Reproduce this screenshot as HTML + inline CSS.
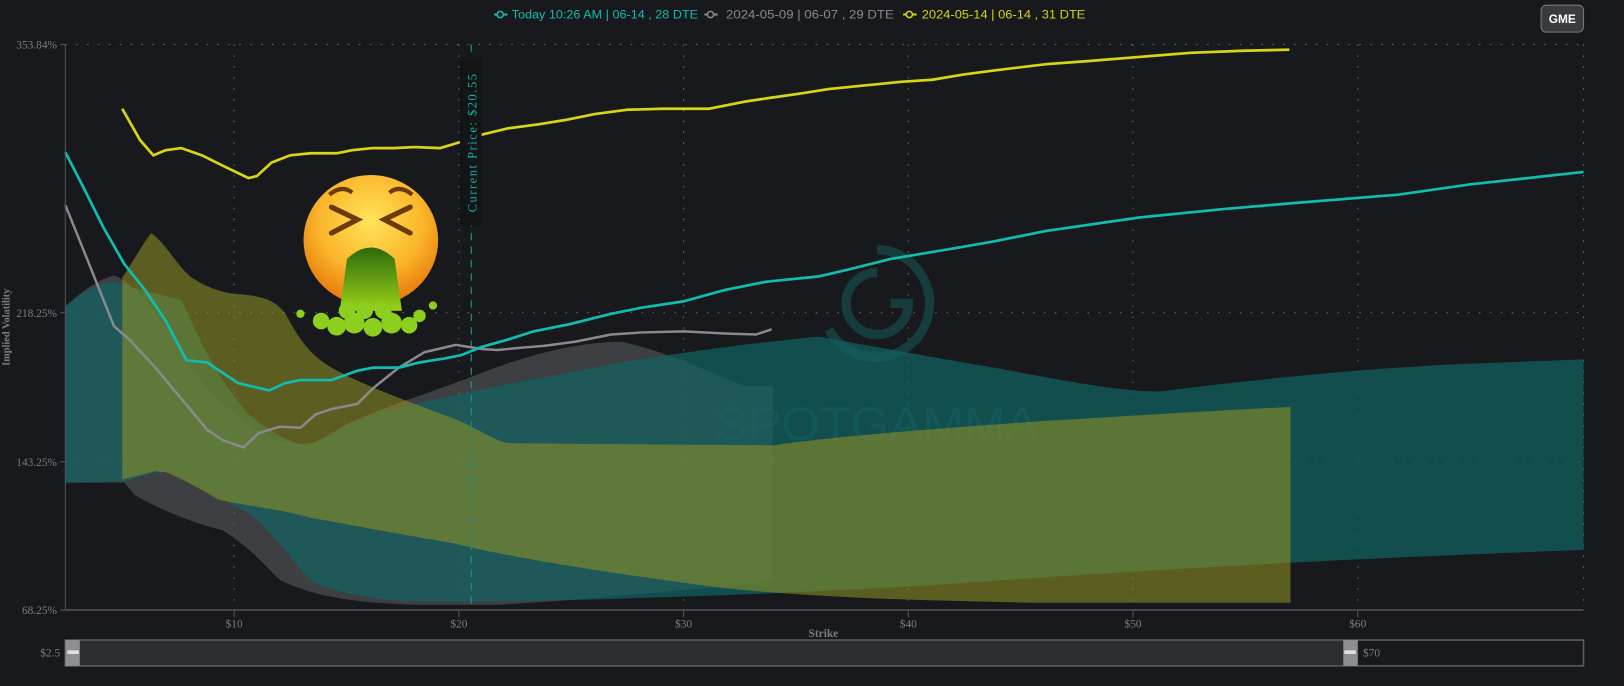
<!DOCTYPE html>
<html><head><meta charset="utf-8"><style>
html,body{margin:0;padding:0;background:#18191d;width:1624px;height:686px;overflow:hidden}
svg{display:block}
</style></head><body>
<svg width="1624" height="686" viewBox="0 0 1568 662.4" xmlns="http://www.w3.org/2000/svg">
<defs>
<radialGradient id="face" cx="50%" cy="35%" r="65%">
<stop offset="0" stop-color="#ffe45a"/><stop offset="0.6" stop-color="#fbb52a"/><stop offset="1" stop-color="#e77a0c"/>
</radialGradient>
<linearGradient id="vom" x1="0" y1="0" x2="0" y2="1"><stop offset="0" stop-color="#2d6a0a"/><stop offset="1" stop-color="#9bd21a"/></linearGradient>
</defs>
<rect width="1568" height="662.4" fill="#18191d"/>
<g stroke="#6a6b70" stroke-width="1" stroke-dasharray="1.5 9">
<line x1="63" y1="43" x2="1529" y2="43"/>
<line x1="63" y1="302" x2="1529" y2="302"/>
<line x1="63" y1="446" x2="1529" y2="446"/>
<line x1="226" y1="43" x2="226" y2="589"/><line x1="443" y1="43" x2="443" y2="589"/>
<line x1="660" y1="43" x2="660" y2="589"/><line x1="877" y1="43" x2="877" y2="589"/>
<line x1="1094" y1="43" x2="1094" y2="589"/><line x1="1311" y1="43" x2="1311" y2="589"/>
<line x1="1529" y1="43" x2="1529" y2="589"/>
</g>
<g fill="none" stroke="#173c3e" stroke-width="9">
<path d="M847,241 A52,52 0 1 1 800,318"/><path d="M847,263 A30,30 0 1 0 877,293 L860,293"/>
</g>
<text x="690" y="425" textLength="313" lengthAdjust="spacingAndGlyphs" font-family="Liberation Sans, sans-serif" font-size="46" fill="#173c3e">SPOTGAMMA</text>
<path fill="rgba(95,95,98,0.55)" d="M63,296 C80,280 95,270 110,266 C125,270 150,300 170,330 C190,370 220,400 265,425 C290,432 310,430 330,412 C370,392 420,378 460,362 C510,342 560,330 600,330 C640,338 690,362 720,373 L746,373 L746,562 C650,570 560,580 480,584 L400,584 C340,582 300,575 270,560 C250,540 240,528 215,512 C185,505 150,490 130,478 L120,466 L63,466 Z"/>
<path fill="rgba(18,98,98,0.72)" d="M63,296 C80,282 95,272 110,272 C140,282 160,285 175,290 C190,320 205,360 240,400 C265,420 285,430 300,430 C320,418 340,405 380,395 C440,380 520,365 600,350 C680,337 740,330 790,325 C830,332 900,345 960,355 C1030,368 1080,378 1120,378 C1200,368 1300,357 1400,352 L1529,347 L1529,531 C1400,536 1300,540 1200,546 C1100,551 1000,558 900,565 C800,571 700,575 600,578 C500,581 420,582 380,580 C340,575 310,568 300,560 C280,540 265,515 240,495 C215,482 190,470 165,456 L150,456 L120,465 L63,466 Z"/>
<path fill="rgba(150,150,35,0.55)" d="M118,268 C130,250 140,232 146,225 C160,235 172,258 185,268 C200,278 215,283 230,284 C255,286 265,290 275,302 C290,330 300,343 320,355 C350,372 400,390 440,405 C470,418 480,428 495,428 L746,430 C800,422 900,414 1000,407 C1100,401 1180,396 1246,393 L1246,582 L1000,582 C900,580 800,578 700,568 C600,555 500,540 440,525 C380,515 330,505 300,500 C265,490 230,488 210,482 C190,470 175,462 160,456 L150,455 L118,463 Z"/>
<line x1="455" y1="43" x2="455" y2="589" stroke="#1a8f86" stroke-width="1.2" stroke-dasharray="7 6"/>
<polyline fill="none" stroke="#8a8a8c" stroke-width="2.4" stroke-linejoin="round" points="63,198 80,240 100,290 110,315 125,328 150,355 175,385 200,415 215,425 235,432 250,418 270,412 290,413 305,400 320,395 345,390 360,375 385,355 410,340 440,333 465,337 480,338 500,336 525,334 555,330 590,323 620,321 660,320 700,322 730,323 745,318"/>
<polyline fill="none" stroke="#12bcb0" stroke-width="2.6" stroke-linejoin="round" points="63,147 80,180 100,220 120,255 140,280 160,310 180,348 200,350 230,370 260,377 275,370 290,367 320,367 345,358 360,355 385,355 405,350 430,346 445,343 465,335 490,328 515,320 550,313 590,303 620,297 660,291 700,280 740,272 790,267 820,260 860,250 920,240 960,233 1010,223 1100,210 1180,202 1250,196 1350,188 1420,178 1529,166"/>
<polyline fill="none" stroke="#d8d416" stroke-width="2.6" stroke-linejoin="round" points="118,105 135,135 148,150 160,145 175,143 195,150 215,160 240,172 248,170 262,157 280,150 300,148 325,148 340,145 360,143 380,143 400,142 425,143 445,137 465,130 490,124 520,120 545,116 575,110 605,106 640,105 685,105 720,98 740,95 775,90 800,86 830,83 870,79 900,77 930,72 960,68 1010,62 1050,59 1100,55 1150,51 1200,49 1245,48"/>
<rect x="444" y="55" width="21" height="163" rx="4" fill="#141517"/>
<text transform="translate(460,205) rotate(-90)" font-family="Liberation Serif, serif" font-size="12" fill="#14b3a6" letter-spacing="1.5">Current Price: $20.55</text>
<g>
<ellipse cx="358" cy="232" rx="65" ry="63" fill="url(#face)"/>
<path d="M320,200 L345,212 L320,225" fill="none" stroke="#6b3a08" stroke-width="5" stroke-linecap="round"/>
<path d="M396,200 L371,212 L396,225" fill="none" stroke="#6b3a08" stroke-width="5" stroke-linecap="round"/>
<path d="M318,188 Q330,178 340,186 M398,188 Q386,178 376,186" fill="none" stroke="#6b3a08" stroke-width="4"/>
<path d="M335,250 Q358,228 381,250 L388,300 L328,300 Z" fill="url(#vom)"/>
<g fill="#8ccf1e">
<circle cx="310" cy="310" r="8"/><circle cx="325" cy="315" r="9"/><circle cx="342" cy="312" r="10"/><circle cx="360" cy="316" r="9"/><circle cx="378" cy="312" r="10"/><circle cx="395" cy="314" r="8"/><circle cx="405" cy="305" r="6"/><circle cx="290" cy="303" r="4"/><circle cx="418" cy="295" r="4"/><circle cx="335" cy="300" r="8"/><circle cx="370" cy="300" r="8"/><circle cx="352" cy="300" r="8"/>
</g>
</g>
<line x1="63" y1="43" x2="63" y2="589" stroke="#55565a" stroke-width="1"/>
<line x1="63" y1="589" x2="1529" y2="589" stroke="#55565a" stroke-width="1.5"/>
<g stroke="#55565a" stroke-width="1">
<line x1="58" y1="43" x2="63" y2="43"/><line x1="58" y1="302" x2="63" y2="302"/><line x1="58" y1="446" x2="63" y2="446"/><line x1="58" y1="589" x2="63" y2="589"/>
<line x1="226" y1="589" x2="226" y2="596"/><line x1="443" y1="589" x2="443" y2="596"/><line x1="660" y1="589" x2="660" y2="596"/><line x1="877" y1="589" x2="877" y2="596"/><line x1="1094" y1="589" x2="1094" y2="596"/><line x1="1311" y1="589" x2="1311" y2="596"/>
</g>
<rect x="63" y="618" width="1466" height="25" fill="#2d2e32" stroke="#5a5b5f" stroke-width="1.5"/>
<rect x="1311" y="619" width="217" height="23" fill="#18191d"/>
<rect x="63" y="618" width="14" height="25" fill="#8d8e90"/><rect x="65" y="628" width="11" height="3.5" fill="#e0e0e0"/>
<rect x="1297" y="618" width="14" height="25" fill="#8d8e90"/><rect x="1298" y="628" width="11" height="3.5" fill="#e0e0e0"/>
<g font-family="Liberation Serif, serif" font-size="11" fill="#7d7e82">
<text x="55" y="47" text-anchor="end">353.84%</text>
<text x="55" y="306" text-anchor="end">218.25%</text>
<text x="55" y="450" text-anchor="end">143.25%</text>
<text x="55" y="593" text-anchor="end">68.25%</text>
<text x="226" y="606" text-anchor="middle">$10</text><text x="443" y="606" text-anchor="middle">$20</text>
<text x="660" y="606" text-anchor="middle">$30</text><text x="877" y="606" text-anchor="middle">$40</text>
<text x="1094" y="606" text-anchor="middle">$50</text><text x="1311" y="606" text-anchor="middle">$60</text>
<text x="58" y="634" text-anchor="end">$2.5</text><text x="1316" y="634">$70</text>
</g>
<text x="795" y="615" text-anchor="middle" font-family="Liberation Serif, serif" font-size="11" font-weight="bold" fill="#7d7e82">Strike</text>
<text transform="translate(9,316) rotate(-90)" text-anchor="middle" font-family="Liberation Serif, serif" font-size="10" font-weight="bold" fill="#7d7e82">Implied Volatility</text>
<g font-family="Liberation Sans, sans-serif" font-size="12">
<line x1="477" y1="14" x2="490" y2="14" stroke="#12bcb0" stroke-width="2"/><circle cx="483" cy="14" r="3" fill="#18191d" stroke="#12bcb0" stroke-width="1.5"/>
<text x="494" y="18" fill="#12bcb0" textLength="180" lengthAdjust="spacingAndGlyphs">Today 10:26 AM | 06-14 , 28 DTE</text>
<line x1="680" y1="14" x2="693" y2="14" stroke="#8a8a8c" stroke-width="2"/><circle cx="686" cy="14" r="3" fill="#18191d" stroke="#8a8a8c" stroke-width="1.5"/>
<text x="701" y="18" fill="#8a8a8c" textLength="162" lengthAdjust="spacingAndGlyphs">2024-05-09 | 06-07 , 29 DTE</text>
<line x1="872" y1="14" x2="885" y2="14" stroke="#d8d416" stroke-width="2"/><circle cx="878" cy="14" r="3" fill="#18191d" stroke="#d8d416" stroke-width="1.5"/>
<text x="890" y="18" fill="#d8d416" textLength="158" lengthAdjust="spacingAndGlyphs">2024-05-14 | 06-14 , 31 DTE</text>
</g>
<rect x="1488" y="5" width="41" height="26" rx="5" fill="#3a3b3f" stroke="#77787c" stroke-width="1"/>
<text x="1508.5" y="22" text-anchor="middle" font-family="Liberation Sans, sans-serif" font-size="11.5" font-weight="bold" fill="#ffffff">GME</text>
</svg>
</body></html>
